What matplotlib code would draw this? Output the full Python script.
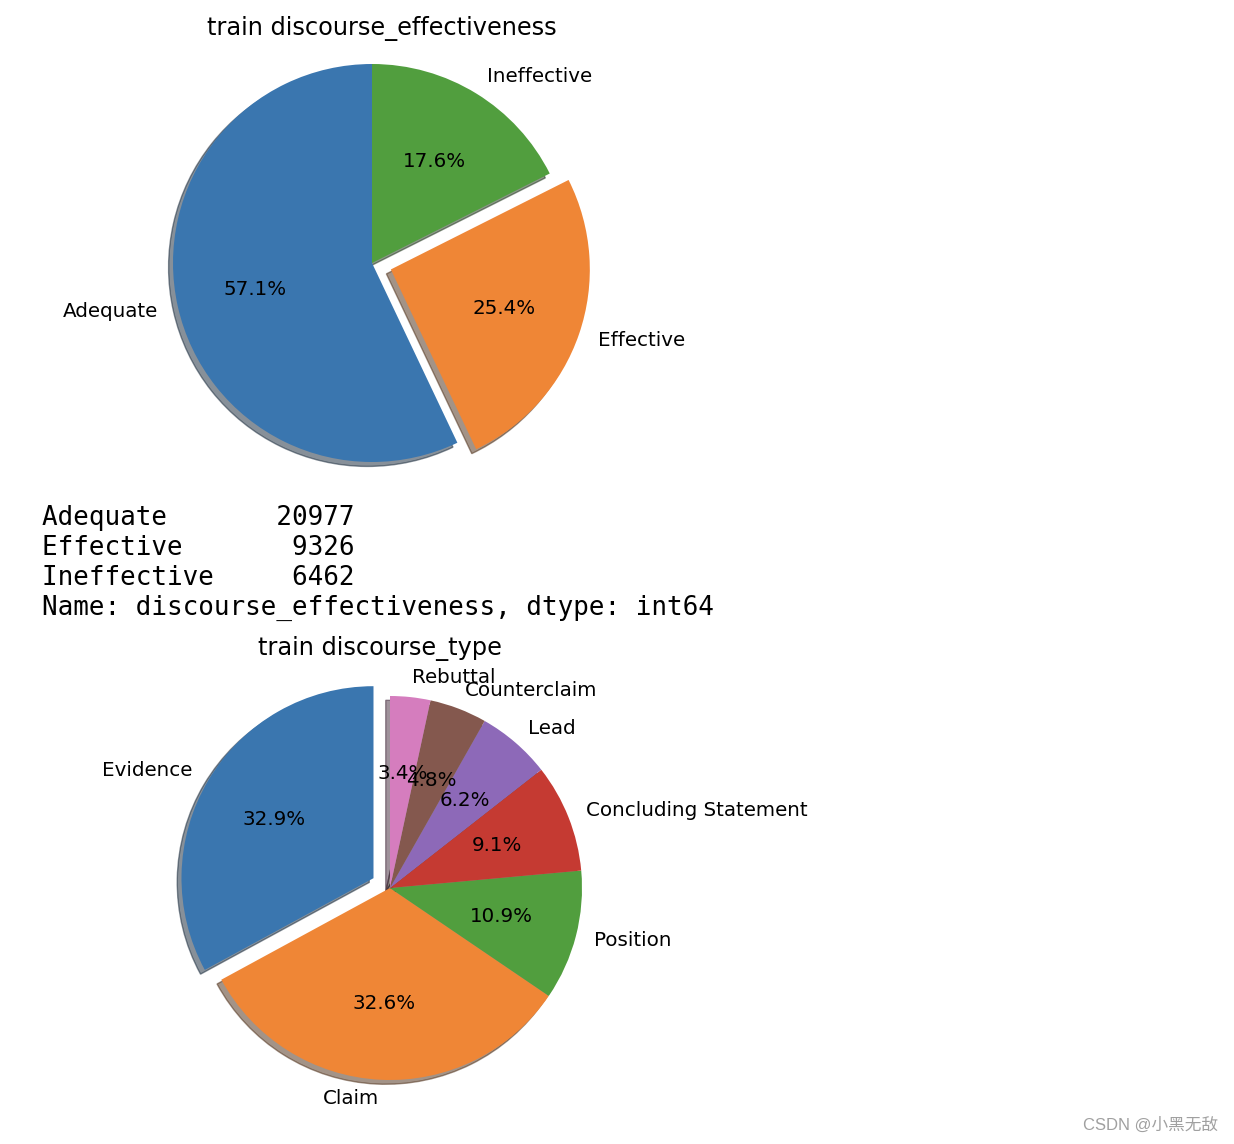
import matplotlib
matplotlib.use("Agg")
import matplotlib.pyplot as plt

# value_counts of the two columns
eff_names = ["Adequate", "Effective", "Ineffective"]
eff_counts = [20977, 9326, 6462]
type_names = ["Evidence", "Claim", "Position", "Concluding Statement",
              "Lead", "Counterclaim", "Rebuttal"]
type_counts = [12105, 11977, 4024, 3351, 2291, 1773, 1244]

COLORS = ["#3a76af", "#ef8636", "#519e3e", "#c53a32", "#8d69b8", "#84584e", "#d57dbe"]
W, H = 1234, 1144
fig = plt.figure(figsize=(W / 100, H / 100), dpi=100)


def pie_axes(cx, cy, r):
    # square axes (pixels) so that the pie (xlim +-1.25) gets radius r
    s = 2.5 * r
    return fig.add_axes([(cx - s / 2) / W, (H - cy - s / 2) / H, s / W, s / H])


shadow = {"ox": -0.016, "oy": -0.016}

ax1 = pie_axes(372, 263, 199)
ax1.pie(eff_counts, labels=eff_names, autopct="%1.1f%%", startangle=90,
        explode=[0, 0.1, 0], shadow=shadow, colors=COLORS[:3],
        textprops={"fontsize": 14.3})
ax1.set_title("train discourse_effectiveness", fontsize=17.3, x=0.519, y=0.958, pad=0)

ax2 = pie_axes(390, 888, 192)
ax2.pie(type_counts, labels=type_names, autopct="%1.1f%%", startangle=90,
        explode=[0.1, 0, 0, 0, 0, 0, 0], shadow=shadow, colors=COLORS,
        textprops={"fontsize": 14.3})
ax2.set_title("train discourse_type", fontsize=17.3, x=0.479, y=0.985, pad=0)

# printed Series between the two plots
lines = [f"{n:<11}{c:>9}" for n, c in zip(eff_names, eff_counts)]
lines.append("Name: discourse_effectiveness, dtype: int64")
for i, s in enumerate(lines):
    fig.text(42 / W, 1 - (525 + 30 * i) / H, s, family="DejaVu Sans Mono",
             fontsize=18.7, va="baseline", ha="left")

fig.text(1218 / W, 1 - 1125 / H, "CSDN @小黑无敌", ha="right", va="center",
         fontsize=12, color="#a0a0a0", family=["Liberation Sans", "Noto Sans CJK SC"])

fig.savefig("out.png", dpi=100)
